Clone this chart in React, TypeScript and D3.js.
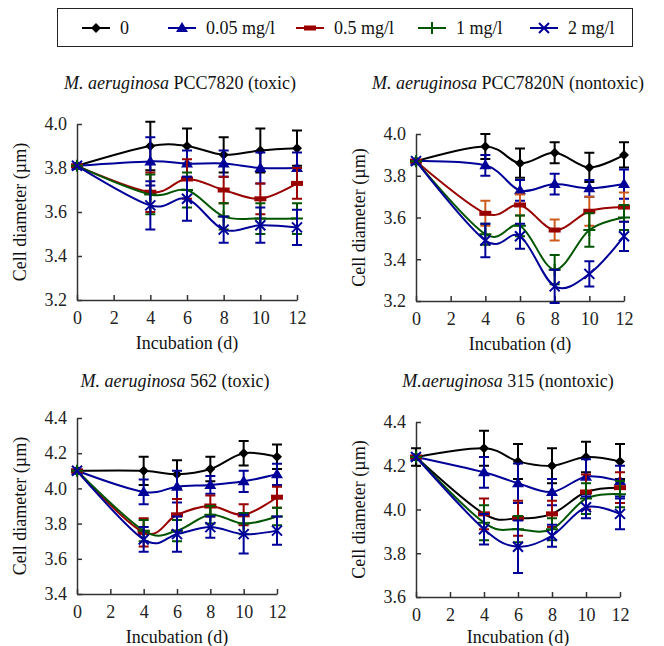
import {useEffect, useRef} from 'react';
import * as d3 from 'd3';

const days = [0, 4, 6, 8, 10, 12];
const seriesNames = ['0', '0.05 mg/l', '0.5 mg/l', '1 mg/l', '2 mg/l'];
const seriesColors = ['#000000', '#000099', '#990000', '#005500', '#000099'];
const seriesMarkers = ['diamond', 'triangle', 'bar', 'plus', 'cross'];

// panel 1: M. aeruginosa PCC7820 (toxic)
const p1Values = [
  [3.81, 3.90, 3.90, 3.86, 3.88, 3.89],
  [3.81, 3.83, 3.82, 3.82, 3.80, 3.80],
  [3.81, 3.69, 3.75, 3.70, 3.66, 3.73],
  [3.81, 3.68, 3.70, 3.58, 3.57, 3.57],
  [3.81, 3.63, 3.66, 3.52, 3.54, 3.53],
];
const p1Errors = [
  [0, 0.11, 0.08, 0.08, 0.10, 0.08],
  [0, 0.11, 0.06, 0.06, 0.07, 0.07],
  [0, 0.09, 0.09, 0.06, 0.07, 0.07],
  [0, 0.09, 0.08, 0.06, 0.07, 0.07],
  [0, 0.11, 0.10, 0.06, 0.08, 0.08],
];

// panel 2: M. aeruginosa PCC7820N (nontoxic)
const p2Values = [
  [3.87, 3.94, 3.86, 3.91, 3.84, 3.90],
  [3.87, 3.85, 3.73, 3.76, 3.74, 3.76],
  [3.87, 3.62, 3.66, 3.54, 3.63, 3.65],
  [3.87, 3.52, 3.56, 3.35, 3.54, 3.60],
  [3.87, 3.49, 3.51, 3.27, 3.33, 3.51],
];
const p2Errors = [
  [0, 0.06, 0.07, 0.05, 0.07, 0.06],
  [0, 0.05, 0.05, 0.05, 0.04, 0.07],
  [0, 0.06, 0.05, 0.05, 0.07, 0.07],
  [0, 0.05, 0.05, 0.07, 0.08, 0.06],
  [0, 0.08, 0.06, 0.08, 0.06, 0.07],
];

// panel 3: M. aeruginosa 562 (toxic)
const p3Values = [
  [4.10, 4.10, 4.08, 4.11, 4.20, 4.18],
  [4.10, 3.98, 4.01, 4.02, 4.04, 4.08],
  [4.10, 3.75, 3.85, 3.90, 3.85, 3.95],
  [4.10, 3.76, 3.76, 3.85, 3.80, 3.84],
  [4.10, 3.71, 3.74, 3.78, 3.74, 3.76],
];
const p3Errors = [
  [0, 0.08, 0.08, 0.07, 0.07, 0.07],
  [0, 0.07, 0.09, 0.05, 0.06, 0.06],
  [0, 0.08, 0.09, 0.06, 0.06, 0.06],
  [0, 0.06, 0.06, 0.05, 0.06, 0.05],
  [0, 0.07, 0.10, 0.06, 0.11, 0.08],
];

// panel 4: M.aeruginosa 315 (nontoxic)
const p4Values = [
  [4.24, 4.28, 4.22, 4.20, 4.24, 4.22],
  [4.24, 4.17, 4.12, 4.08, 4.15, 4.13],
  [4.24, 3.98, 3.96, 3.98, 4.08, 4.10],
  [4.24, 3.94, 3.91, 3.91, 4.05, 4.07],
  [4.24, 3.91, 3.83, 3.88, 4.01, 3.98],
];
const p4Errors = [
  [0.04, 0.08, 0.08, 0.08, 0.07, 0.08],
  [0, 0.07, 0.09, 0.06, 0.08, 0.07],
  [0, 0.07, 0.08, 0.06, 0.08, 0.07],
  [0, 0.08, 0.06, 0.05, 0.07, 0.06],
  [0, 0.07, 0.12, 0.05, 0.05, 0.07],
];

const xTicks = [0, 2, 4, 6, 8, 10, 12];

const panels = [
  {italic: 'M. aeruginosa', rest: ' PCC7820 (toxic)', values: p1Values, errors: p1Errors,
    yDomain: [3.2, 4.0], x0: 77, x1: 297, yTop: 124, yBottom: 300, titleX: 180, titleY: 89,
    labelGap: 49, lineColors: {}, errColors: {}},
  {italic: 'M. aeruginosa', rest: ' PCC7820N (nontoxic)', values: p2Values, errors: p2Errors,
    yDomain: [3.2, 4.0], x0: 416, x1: 624, yTop: 134, yBottom: 301, titleX: 508, titleY: 89,
    labelGap: 49, lineColors: {}, errColors: {2: '#cc5a1e'}},
  {italic: 'M. aeruginosa', rest: ' 562 (toxic)', values: p3Values, errors: p3Errors,
    yDomain: [3.4, 4.4], x0: 77, x1: 277, yTop: 418, yBottom: 594, titleX: 175, titleY: 387,
    labelGap: 49, lineColors: {}, errColors: {}},
  {italic: 'M.aeruginosa', rest: ' 315 (nontoxic)', values: p4Values, errors: p4Errors,
    yDomain: [3.6, 4.4], x0: 416, x1: 620, yTop: 422, yBottom: 597, titleX: 508, titleY: 387,
    labelGap: 46, lineColors: {2: '#000000'}, errColors: {}},
];

const FONT = 'Liberation Serif';

const drawMarker = (g, type, color, x, y) => {
  if (type === 'diamond') {
    g.append('path').attr('d', `M${x},${y - 5}L${x + 5},${y}L${x},${y + 5}L${x - 5},${y}Z`).attr('fill', color);
  } else if (type === 'triangle') {
    g.append('path').attr('d', `M${x},${y - 6}L${x + 6},${y + 4}L${x - 6},${y + 4}Z`).attr('fill', color);
  } else if (type === 'bar') {
    g.append('rect').attr('x', x - 6).attr('y', y - 2.5).attr('width', 12).attr('height', 5).attr('fill', color);
  } else if (type === 'plus') {
    g.append('path').attr('d', `M${x - 6},${y}H${x + 6}M${x},${y - 6}V${y + 6}`).attr('stroke', color).attr('stroke-width', 2);
  } else if (type === 'cross') {
    g.append('path').attr('d', `M${x - 5},${y - 5}L${x + 5},${y + 5}M${x - 5},${y + 5}L${x + 5},${y - 5}`)
      .attr('stroke', color).attr('stroke-width', 2);
  }
};

const App = () => {
  const svgRef = useRef(null);

  useEffect(() => {
    const svg = d3.select(svgRef.current);
    svg.selectAll('*').remove();

    // Legend
    const legend = svg.append('g');
    legend.append('rect').attr('x', 57.5).attr('y', 8.5).attr('width', 575).attr('height', 38)
      .attr('fill', 'white').attr('stroke', '#222').attr('stroke-width', 1);
    const legendX = [82, 168, 296, 418, 530];
    seriesNames.forEach((name, i) => {
      const lx = legendX[i];
      const ly = 28;
      legend.append('line').attr('x1', lx).attr('x2', lx + 28).attr('y1', ly).attr('y2', ly)
        .attr('stroke', seriesColors[i]).attr('stroke-width', 2);
      drawMarker(legend, seriesMarkers[i], seriesColors[i], lx + 14, ly);
      legend.append('text').attr('x', lx + 38).attr('y', ly + 6).attr('font-size', 18)
        .attr('font-family', FONT).attr('fill', '#111').text(name);
    });

    panels.forEach(p => {
      const g = svg.append('g');
      const x = d3.scaleLinear().domain([0, 12]).range([p.x0, p.x1]);
      const y = d3.scaleLinear().domain(p.yDomain).range([p.yBottom, p.yTop]);
      const yTicks = d3.range(p.yDomain[0], p.yDomain[1] + 0.001, 0.2);

      // axes
      const xAxis = g.append('g').attr('transform', `translate(0,${p.yBottom})`)
        .call(d3.axisBottom(x).tickValues(xTicks).tickSizeInner(-5).tickSizeOuter(0).tickPadding(10));
      const yAxis = g.append('g').attr('transform', `translate(${p.x0},0)`)
        .call(d3.axisLeft(y).tickValues(yTicks).tickSizeInner(-5).tickSizeOuter(0).tickPadding(10)
          .tickFormat(d3.format('.1f')));
      [xAxis, yAxis].forEach(a => {
        a.attr('font-family', FONT).attr('font-size', 18);
        a.selectAll('path').attr('stroke', '#333').attr('stroke-width', 1.5);
        a.selectAll('line').attr('stroke', '#333').attr('stroke-width', 1.5);
        a.selectAll('text').attr('fill', '#222');
      });
      xAxis.selectAll('text').attr('dy', '0.8em');

      // error bars + lines + markers
      p.values.forEach((vals, s) => {
        const color = p.lineColors[s] || seriesColors[s];
        const errColor = p.errColors[s] || seriesColors[s];
        const pts = days.map((d, k) => ({day: d, v: vals[k], e: p.errors[s][k]}));
        pts.forEach(pt => {
          if (!pt.e) return;
          const cx = x(pt.day);
          const yHi = y(pt.v + pt.e);
          const yLo = Math.min(y(pt.v - pt.e), p.yBottom + 8);
          g.append('path')
            .attr('d', `M${cx},${yHi}V${yLo}M${cx - 5},${yHi}H${cx + 5}M${cx - 5},${yLo}H${cx + 5}`)
            .attr('stroke', errColor).attr('stroke-width', 2).attr('fill', 'none');
        });
        const line = d3.line()
          .x(d => x(d.day))
          .y(d => y(d.v))
          .curve(d3.curveCatmullRom.alpha(0));
        g.append('path').datum(pts).attr('d', line).attr('fill', 'none')
          .attr('stroke', color).attr('stroke-width', 2);
        pts.forEach(pt => drawMarker(g, seriesMarkers[s], seriesColors[s], x(pt.day), y(pt.v)));
      });

      // title
      const title = g.append('text').attr('x', p.titleX).attr('y', p.titleY)
        .attr('text-anchor', 'middle').attr('font-size', 18).attr('font-family', FONT).attr('fill', '#111');
      title.append('tspan').attr('font-style', 'italic').text(p.italic);
      title.append('tspan').text(p.rest);

      // y label
      const midY = (p.yTop + p.yBottom) / 2;
      g.append('text').attr('transform', `translate(${p.x0 - 51},${midY}) rotate(-90)`)
        .attr('text-anchor', 'middle').attr('font-size', 18).attr('font-family', FONT)
        .attr('fill', '#111').text('Cell diameter (µm)');

      // x label
      g.append('text').attr('x', (p.x0 + p.x1) / 2).attr('y', p.yBottom + p.labelGap)
        .attr('text-anchor', 'middle').attr('font-size', 18).attr('font-family', FONT)
        .attr('fill', '#111').text('Incubation (d)');
    });
  }, []);

  return (
    <svg ref={svgRef} width={664} height={646}
      style={{position: 'absolute', left: 0, top: 0, background: 'white'}}/>
  );
};

export default App;
